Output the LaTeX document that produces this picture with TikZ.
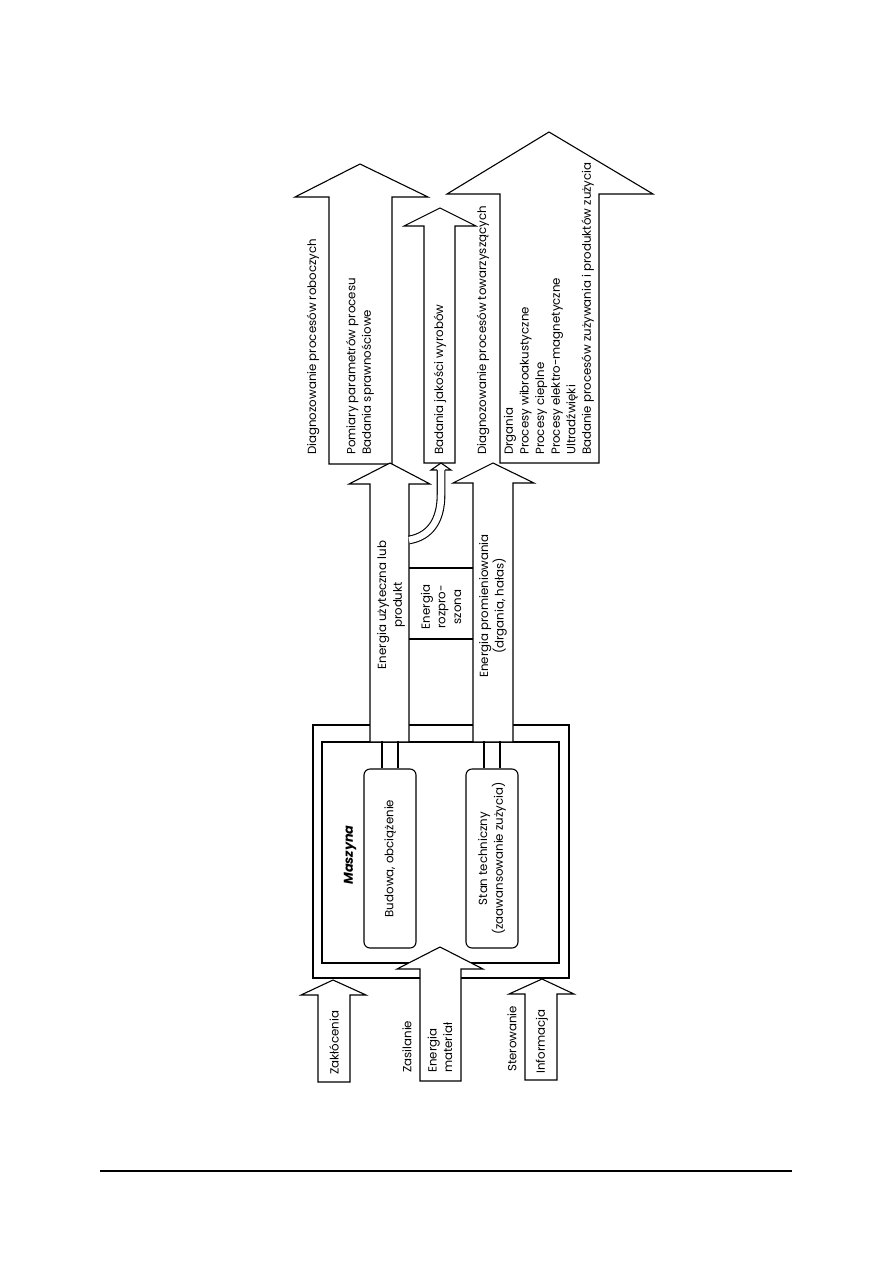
\documentclass[tikz,border=0pt]{standalone}
\usepackage{fontspec}
\setmainfont{Poppins}
\usetikzlibrary{calc}

% block arrow: shaft left, shaft right, bottom, head base, head left, head right, tip x, tip y
\newcommand{\flowarrow}[8]{%
  \draw[flow] (#1,#3) -- (#1,#4) -- (#5,#4) -- (#7,#8) -- (#6,#4) -- (#2,#4) -- (#2,#3) -- cycle;}

\begin{document}
\begin{tikzpicture}[x=1pt, y=-1pt,
    flow/.style={draw, fill=white, line width=1.1pt, line join=miter},
    lbl/.style={rotate=90, inner sep=0pt, font=\fontsize{11.8}{15.6}\selectfont},
    stanbox/.style={lbl, draw, line width=1.1pt, rounded corners=6pt,
      minimum width=179pt, minimum height=52pt, align=center}]
  \useasboundingbox (0,0) rectangle (893,1263);

  % maszyna
  \draw[line width=1.1pt] (313,725) rectangle (569,978);
  \draw[line width=1.1pt] (322,742) rectangle (559,963);

  % wyjscia
  \flowarrow{329}{392}{464}{197}{295}{428}{360}{164}
  \flowarrow{424}{455}{463}{226}{404}{476}{440}{208}
  \flowarrow{500}{599}{463}{194}{447}{653}{549}{132}
  \flowarrow{370}{409}{742}{484}{349}{430}{390}{463}
  \flowarrow{473}{513}{742}{483}{453}{534}{493}{463}
  \draw[line width=1.1pt] (409,568) -- (473,568);
  \draw[line width=1.1pt] (409,639) -- (473,639);

  % odgalezienie do badania jakosci
  \draw[line width=1.1pt, double distance=6.5pt] (409,540) .. controls (432,536) and (441,518) .. (441,495) -- (441,470);
  \draw[flow] (437,470) -- (431,470) -- (441,463) -- (451,470) -- (445,470);

  % wejscia
  \flowarrow{318}{350}{1082}{995}{301}{366}{333}{980}
  \flowarrow{420}{461}{1081}{969}{397}{483}{440}{947}
  \flowarrow{525}{557}{1080}{994}{509}{574}{542}{979}

  % opisy
  \node[lbl, anchor=west] (diagrob) at (313,455) {Diagnozowanie procesów roboczych};
  \node[lbl, anchor=west, align=left] (pomiary) at (360,455) {Pomiary parametrów procesu\\Badania sprawnościowe};
  \node[lbl, anchor=west] (jakosc) at (440,455) {Badania jakości wyrobów};
  \node[lbl, anchor=west] (diagtow) at (483,455) {Diagnozowanie procesów towarzyszących};
  \node[lbl, anchor=west, align=left] (drgania) at (549,455) {Drgania\\Procesy wibroakustyczne\\Procesy cieplne\\Procesy elektro-magnetyczne\\Ultradźwięki\\Badanie procesów zużywania i produktów zużycia};
  \node[lbl, align=center] (uzyteczna) at (391,605) {Energia użyteczna lub\\produkt};
  \node[lbl, align=center] (rozproszona) at (441,607) {Energia\\rozpro-\\szona};
  \node[lbl, align=center] (promien) at (493,606) {Energia promieniowania\\(drgania, hałas)};

  \node[lbl, font=\fontsize{12.8}{15}\selectfont\bfseries\itshape] (maszyna) at (350,855) {Maszyna};
  \node[stanbox] (budowa) at (390,858.5) {Budowa, obciążenie};
  \node[stanbox] (stan) at (492,858.5) {Stan techniczny\\(zaawansowanie zużycia)};
  \draw[line width=1.1pt] ($(budowa.east)+(-8,0)$) -- ++(0,-27) ($(budowa.east)+(8,0)$) -- ++(0,-27);
  \draw[line width=1.1pt] ($(stan.east)+(-8,0)$) -- ++(0,-27) ($(stan.east)+(8,0)$) -- ++(0,-27);

  \node[lbl, anchor=west] (zaklocenia) at (334,1075) {Zakłócenia};
  \node[lbl, anchor=west] (zasilanie) at (407,1073) {Zasilanie};
  \node[lbl, anchor=west, align=left] (energmat) at (440,1073) {Energia\\materiał};
  \node[lbl, anchor=west] (sterowanie) at (512,1072) {Sterowanie};
  \node[lbl, anchor=west] (informacja) at (542,1074) {Informacja};

  \draw[line width=1.2pt] (100,1171) -- (792,1171);
\end{tikzpicture}
\end{document}
